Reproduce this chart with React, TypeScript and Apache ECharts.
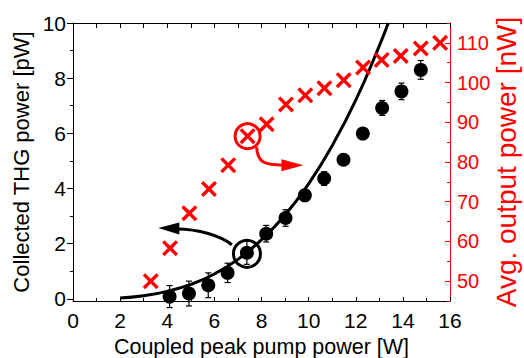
import React, { useEffect, useRef } from "react";
import * as echarts from "echarts";

// Collected THG power (left axis, pW)
const thgX = [4.1, 4.92, 5.74, 6.56, 7.38, 8.2, 9.02, 9.84, 10.66, 11.48, 12.3, 13.12, 13.94, 14.76];
const thgY = [0.08, 0.19, 0.49, 0.94, 1.67, 2.36, 2.93, 3.75, 4.36, 5.04, 5.99, 6.92, 7.52, 8.3];
const thgErr = [0.4, 0.45, 0.45, 0.35, 0.42, 0.3, 0.3, 0.2, 0.25, 0.2, 0.2, 0.27, 0.3, 0.34];

// Fit curve
const fitX = [2, 3, 4, 5, 6, 7, 8, 9, 10, 11, 12, 13, 13.38];
const fitY = [0.03, 0.11, 0.27, 0.52, 0.9, 1.43, 2.14, 3.04, 4.17, 5.55, 7.2, 9.17, 10.0];

// Avg. output power (right axis, nW)
const outX = [3.3, 4.12, 4.94, 5.77, 6.59, 7.41, 8.22, 9.04, 9.86, 10.67, 11.49, 12.31, 13.1, 13.91, 14.76, 15.58];
const outY = [50.0, 58.3, 67.1, 73.2, 79.2, 86.5, 89.5, 94.5, 96.8, 98.6, 100.6, 103.8, 105.7, 106.7, 108.6, 110.0];

// Tick values
const leftTicks = [0, 2, 4, 6, 8, 10];
const leftMinor = [1, 3, 5, 7, 9];
const rightTicks = [50, 60, 70, 80, 90, 100, 110];
const rightMinor = [45, 55, 65, 75, 85, 95, 105, 115];

// Annotations: [circleX, circleY, arrowTipX, arrowTipY]
const thgMarker = [7.38, 1.67, 3.62, 2.57];
const outMarker = [7.41, 86.5, 9.78, 79.2];

const FONT = "Liberation Sans, Arial, sans-serif";
const RED = "#ff0000";
const X_SYMBOL =
  "path://M0,1.5L1.5,0L5,3.5L8.5,0L10,1.5L6.5,5L10,8.5L8.5,10L5,6.5L1.5,10L0,8.5L3.5,5Z";

export default function App() {
  const ref = useRef<HTMLDivElement>(null);
  useEffect(() => {
    if (!ref.current) return;
    const chart = echarts.init(ref.current, null, { renderer: "svg" });
    const option: any = {
      animation: false,
      backgroundColor: "#fff",
      grid: { left: 73, right: 74, top: 23, bottom: 57, containLabel: false, outerBoundsMode: "none" },
      xAxis: [
        {
          type: "value",
          min: 0,
          max: 16,
          interval: 2,
          position: "bottom",
          axisLine: { onZero: false, lineStyle: { color: "#000", width: 1 } },
          axisTick: { inside: true, length: 4, lineStyle: { color: "#000" } },
          minorTick: { show: true, splitNumber: 2, length: 3, lineStyle: { color: "#000" } },
          axisLabel: { color: "#000", fontSize: 21, fontFamily: FONT, margin: 9 },
          splitLine: { show: false },
          name: "Coupled peak pump power [W]",
          nameLocation: "middle",
          nameGap: 35,
          nameMoveOverlap: false,
          nameTextStyle: { color: "#000", fontSize: 21.5, lineHeight: 21, fontFamily: FONT },
        },
        {
          type: "value",
          min: 0,
          max: 16,
          interval: 1,
          position: "top",
          axisLine: { onZero: false, lineStyle: { color: "#000", width: 1 } },
          axisTick: { inside: true, length: 5, lineStyle: { color: "#000" } },
          axisLabel: { show: false },
          splitLine: { show: false },
        },
      ],
      yAxis: [
        {
          type: "value",
          min: -0.08,
          max: 10,
          position: "left",
          axisLine: { show: true, onZero: false, lineStyle: { color: "#000", width: 1 } },
          axisTick: { show: true, length: 6, customValues: leftTicks, lineStyle: { color: "#000" } },
          axisLabel: { customValues: leftTicks, color: "#000", fontSize: 21, fontFamily: FONT, margin: 7 },
          splitLine: { show: false },
          name: "Collected THG power [pW]",
          nameLocation: "middle",
          nameGap: 41,
          nameMoveOverlap: false,
          nameTextStyle: { color: "#000", fontSize: 22, fontFamily: FONT },
        },
        {
          type: "value",
          min: 45,
          max: 115,
          position: "right",
          axisLine: { show: true, onZero: false, lineStyle: { color: RED, width: 1 } },
          axisTick: { show: true, inside: true, length: 5, customValues: rightTicks, lineStyle: { color: RED } },
          axisLabel: { customValues: rightTicks, color: RED, fontSize: 20, fontFamily: FONT, margin: 7 },
          splitLine: { show: false },
          name: "Avg. output power [nW]",
          nameLocation: "middle",
          nameGap: 42,
          nameMoveOverlap: false,
          nameTextStyle: { color: RED, fontSize: 28, lineHeight: 28, fontFamily: FONT },
        },
        {
          type: "value",
          min: -0.08,
          max: 10,
          position: "left",
          axisLine: { show: false, onZero: false },
          axisTick: { show: true, length: 3, customValues: leftMinor, lineStyle: { color: "#000" } },
          axisLabel: { show: false },
          splitLine: { show: false },
        },
        {
          type: "value",
          min: 45,
          max: 115,
          position: "right",
          axisLine: { show: false, onZero: false },
          axisTick: { show: true, inside: true, length: 3, customValues: rightMinor, lineStyle: { color: RED } },
          axisLabel: { show: false },
          splitLine: { show: false },
        },
      ],
      series: [
        {
          type: "line",
          xAxisIndex: 0,
          yAxisIndex: 0,
          data: fitX.map((x, i) => [x, fitY[i]]),
          smooth: true,
          showSymbol: false,
          symbol: "none",
          lineStyle: { color: "#000", width: 3 },
          z: 2,
        },
        {
          type: "custom",
          xAxisIndex: 0,
          yAxisIndex: 0,
          data: thgX.map((x, i) => [x, thgY[i], thgErr[i]]),
          renderItem: (params: any, api: any) => {
            const x = api.value(0);
            const y = api.value(1);
            const e = api.value(2);
            const top = api.coord([x, y + e]);
            const bot = api.coord([x, y - e]);
            const st = { stroke: "#000", lineWidth: 1.2 };
            return {
              type: "group",
              children: [
                { type: "line", shape: { x1: top[0], y1: top[1], x2: bot[0], y2: bot[1] }, style: st },
                { type: "line", shape: { x1: top[0] - 3, y1: top[1], x2: top[0] + 3, y2: top[1] }, style: st },
                { type: "line", shape: { x1: bot[0] - 3, y1: bot[1], x2: bot[0] + 3, y2: bot[1] }, style: st },
              ],
            };
          },
          z: 3,
        },
        {
          type: "scatter",
          xAxisIndex: 0,
          yAxisIndex: 0,
          data: thgX.map((x, i) => [x, thgY[i]]),
          symbol: "circle",
          symbolSize: 14,
          itemStyle: { color: "#000", opacity: 1 },
          z: 4,
        },
        {
          type: "scatter",
          xAxisIndex: 0,
          yAxisIndex: 1,
          data: outX.map((x, i) => [x, outY[i]]),
          symbol: X_SYMBOL,
          symbolSize: 16,
          itemStyle: { color: RED, opacity: 1 },
          z: 5,
        },
        {
          type: "custom",
          xAxisIndex: 0,
          yAxisIndex: 0,
          data: [thgMarker],
          renderItem: (params: any, api: any) => {
            const c = api.coord([api.value(0), api.value(1)]);
            const t = api.coord([api.value(2), api.value(3)]);
            const st = { fill: "none", stroke: "#000", lineWidth: 3 };
            return {
              type: "group",
              children: [
                { type: "circle", shape: { cx: c[0], cy: c[1], r: 13.5 }, style: st },
                {
                  type: "bezierCurve",
                  shape: {
                    x1: c[0] - 15, y1: c[1] - 8,
                    cpx1: c[0] - 26, cpy1: c[1] - 17,
                    cpx2: t[0] + 40, cpy2: t[1] + 1,
                    x2: t[0] + 18, y2: t[1] + 1,
                  },
                  style: st,
                },
                {
                  type: "polygon",
                  shape: { points: [[t[0], t[1]], [t[0] + 21, t[1] - 5.5], [t[0] + 21, t[1] + 6.5]] },
                  style: { fill: "#000" },
                },
              ],
            };
          },
          z: 6,
        },
        {
          type: "custom",
          xAxisIndex: 0,
          yAxisIndex: 1,
          data: [outMarker],
          renderItem: (params: any, api: any) => {
            const c = api.coord([api.value(0), api.value(1)]);
            const t = api.coord([api.value(2), api.value(3)]);
            const st = { fill: "none", stroke: RED, lineWidth: 3 };
            return {
              type: "group",
              children: [
                { type: "circle", shape: { cx: c[0], cy: c[1], r: 12.5 }, style: st },
                {
                  type: "bezierCurve",
                  shape: {
                    x1: c[0] + 9, y1: c[1] + 11,
                    cpx1: c[0] + 10, cpy1: c[1] + 26,
                    cpx2: t[0] - 40, cpy2: t[1],
                    x2: t[0] - 19, y2: t[1],
                  },
                  style: st,
                },
                {
                  type: "polygon",
                  shape: { points: [[t[0], t[1]], [t[0] - 22, t[1] - 6], [t[0] - 22, t[1] + 6]] },
                  style: { fill: RED },
                },
              ],
            };
          },
          z: 6,
        },
      ],
    };
    chart.setOption(option);
    return () => chart.dispose();
  }, []);
  return <div ref={ref} style={{ width: 524, height: 358, position: "absolute", left: 0, top: 0 }} />;
}
